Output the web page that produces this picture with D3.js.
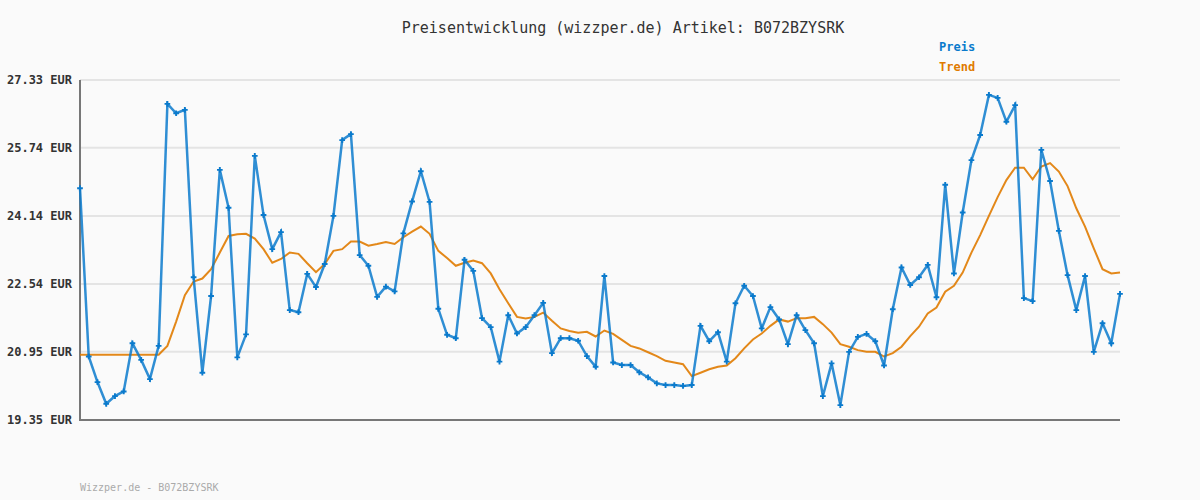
<!DOCTYPE html>
<html>
  <head>
    <meta charset="utf-8">
    <title>Preisentwicklung</title>
    <style>
      body { margin: 0; background: #fafafa; }
      svg { display: block; }
    </style>
  </head>
  <body>
    <svg width="1200" height="500"></svg>
  </body>
  <script src="https://cdn.jsdelivr.net/npm/d3@7"></script>
  <script type="text/javascript">
  // tick labels of the y axis
  var yTicks = [19.35, 20.95, 22.54, 24.14, 25.74, 27.33];

  // Preis, one value per day
  var preis = [
    24.79, 20.84, 20.24, 19.73, 19.91, 20.02, 21.15, 20.76, 20.31, 21.09,
    26.77, 26.55, 26.63, 22.70, 20.46, 22.26, 25.22, 24.33, 20.82, 21.36,
    25.55, 24.16, 23.36, 23.76, 21.93, 21.88, 22.78, 22.47, 23.01, 24.14,
    25.92, 26.06, 23.22, 22.97, 22.24, 22.48, 22.37, 23.73, 24.48, 25.19,
    24.47, 21.96, 21.35, 21.27, 23.11, 22.85, 21.74, 21.53, 20.72, 21.81,
    21.38, 21.53, 21.81, 22.10, 20.92, 21.27, 21.27, 21.21, 20.85, 20.60,
    22.73, 20.70, 20.64, 20.64, 20.47, 20.35, 20.21, 20.17, 20.17, 20.15,
    20.17, 21.56, 21.20, 21.41, 20.72, 22.09, 22.50, 22.26, 21.50, 22.00,
    21.71, 21.13, 21.81, 21.46, 21.15, 19.91, 20.68, 19.70, 20.95, 21.30,
    21.37, 21.20, 20.63, 21.95, 22.93, 22.52, 22.70, 22.99, 22.23, 24.87,
    22.79, 24.22, 25.45, 26.04, 26.98, 26.91, 26.35, 26.74, 22.21, 22.14,
    25.69, 24.96, 23.79, 22.75, 21.93, 22.73, 20.95, 21.62, 21.15, 22.31
  ];

  // Trend line
  var trend = [
    20.88, 20.88, 20.88, 20.88, 20.88, 20.88, 20.88, 20.88, 20.88, 20.88,
    21.09, 21.66, 22.28, 22.60, 22.67, 22.89, 23.28, 23.67, 23.71, 23.72,
    23.61, 23.36, 23.04, 23.13, 23.28, 23.25, 23.03, 22.82, 23.01, 23.32,
    23.36, 23.54, 23.54, 23.44, 23.48, 23.53, 23.48, 23.64, 23.77, 23.89,
    23.72, 23.32, 23.15, 22.97, 23.04, 23.09, 23.03, 22.79, 22.42, 22.09,
    21.77, 21.73, 21.77, 21.87, 21.68, 21.50, 21.44, 21.40, 21.42, 21.31,
    21.45, 21.37, 21.23, 21.09, 21.03, 20.94, 20.85, 20.74, 20.70, 20.66,
    20.38, 20.46, 20.54, 20.60, 20.63, 20.80, 21.03, 21.24, 21.38, 21.56,
    21.71, 21.66, 21.74, 21.74, 21.77, 21.60, 21.40, 21.13, 21.07, 20.99,
    20.95, 20.95, 20.84, 20.92, 21.07, 21.32, 21.54, 21.85, 21.99, 22.36,
    22.50, 22.81, 23.28, 23.69, 24.14, 24.58, 24.98, 25.27, 25.27, 25.00,
    25.30, 25.38, 25.18, 24.84, 24.32, 23.89, 23.38, 22.89, 22.79, 22.81
  ];

  var title = 'Preisentwicklung (wizzper.de) Artikel: B072BZYSRK';
  var footer = 'Wizzper.de - B072BZYSRK';
  var blue = '#0a7acc', orange = '#e07b00';

  var svg = d3.select('svg');
  var plotL = 80, plotR = 1120, plotT = 80, plotB = 420;

  var x = d3.scaleLinear().domain([0, preis.length - 1]).range([plotL, plotR]);
  var y = d3.scaleLinear().domain([19.35, 27.33]).range([plotB, plotT]);

  svg.append('rect').attr('width', 1200).attr('height', 500).attr('fill', '#fafafa');

  // grid lines
  svg.append('g').selectAll('line').data(yTicks.slice(1)).enter().append('line')
    .attr('x1', plotL).attr('x2', plotR)
    .attr('y1', function(d) { return y(d); })
    .attr('y2', function(d) { return y(d); })
    .attr('stroke', '#e4e4e4').attr('stroke-width', 2);

  // y axis labels
  var yAxis = d3.axisLeft(y).tickValues(yTicks).tickSize(0).tickPadding(8)
    .tickFormat(function(d) { return d.toFixed(2) + ' EUR'; });
  var ga = svg.append('g').attr('transform', 'translate(' + plotL + ',0)').call(yAxis);
  ga.select('.domain').remove();
  ga.selectAll('text')
    .attr('font-family', 'DejaVu Sans Mono, monospace')
    .attr('font-size', 12).attr('font-weight', 'bold').attr('fill', '#333');

  // axis lines
  svg.append('line').attr('x1', plotL).attr('x2', plotL).attr('y1', plotT).attr('y2', plotB + 1)
    .attr('stroke', '#777').attr('stroke-width', 2);
  svg.append('line').attr('x1', plotL - 1).attr('x2', plotR).attr('y1', plotB).attr('y2', plotB)
    .attr('stroke', '#777').attr('stroke-width', 2);

  var line = d3.line()
    .x(function(d, i) { return x(i); })
    .y(function(d) { return y(d); });

  svg.append('path').datum(trend).attr('d', line)
    .attr('fill', 'none').attr('stroke', orange).attr('stroke-width', 2).attr('stroke-opacity', 0.9);

  svg.append('path').datum(preis).attr('d', line)
    .attr('fill', 'none').attr('stroke', blue).attr('stroke-width', 2.5).attr('stroke-opacity', 0.85);

  // plus markers
  var cross = d3.symbol().type(d3.symbolCross).size(18);
  svg.append('g').selectAll('path').data(preis).enter().append('path')
    .attr('d', cross)
    .attr('transform', function(d, i) { return 'translate(' + x(i) + ',' + y(d) + ')'; })
    .attr('fill', blue);

  // title, legend, footer
  svg.append('text').text(title)
    .attr('x', 623).attr('y', 33).attr('text-anchor', 'middle')
    .attr('font-family', 'DejaVu Sans Mono, monospace').attr('font-size', 15).attr('fill', '#333');

  svg.append('text').text('Preis')
    .attr('x', 939).attr('y', 51)
    .attr('font-family', 'DejaVu Sans Mono, monospace').attr('font-size', 12)
    .attr('font-weight', 'bold').attr('fill', blue);
  svg.append('text').text('Trend')
    .attr('x', 939).attr('y', 71)
    .attr('font-family', 'DejaVu Sans Mono, monospace').attr('font-size', 12)
    .attr('font-weight', 'bold').attr('fill', orange);

  svg.append('text').text(footer)
    .attr('x', 80).attr('y', 491)
    .attr('font-family', 'DejaVu Sans Mono, monospace').attr('font-size', 10).attr('fill', '#aaa');
  </script>
</html>
